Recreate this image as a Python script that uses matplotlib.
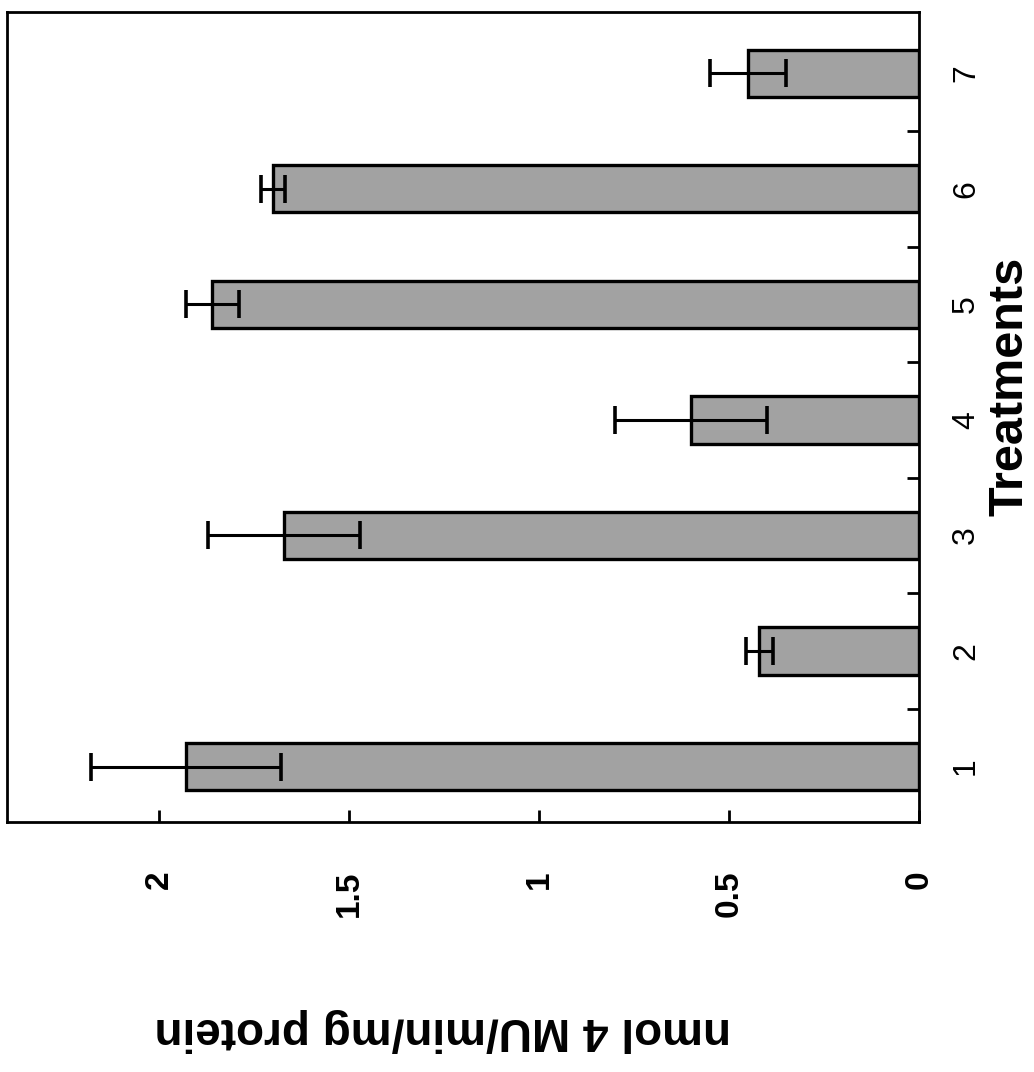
import matplotlib.pyplot as plt
from matplotlib.ticker import FixedLocator

# enzyme activity per treatment (figure is the original bar chart turned 90 deg)
treatments = [1, 2, 3, 4, 5, 6, 7]
activity = [1.93, 0.42, 1.67, 0.60, 1.86, 1.70, 0.45]
errors = [0.25, 0.035, 0.20, 0.20, 0.07, 0.032, 0.10]
value_ticks = [0, 0.5, 1, 1.5, 2]
value_labels = ['0', '0.5', '1', '1.5', '2']

plt.rcParams['font.family'] = ['Liberation Sans', 'DejaVu Sans']

fig = plt.figure(figsize=(10.34, 10.72), dpi=100)
ax = fig.add_axes([7 / 1034, 1 - 822 / 1072, 912 / 1034, 810 / 1072])

ax.barh(treatments, activity, height=0.41, color='#a2a2a2',
        edgecolor='black', linewidth=2.4, zorder=2)
ax.errorbar(activity, treatments, xerr=errors, fmt='none', ecolor='black',
            elinewidth=2.2, capsize=10, capthick=2.6, zorder=3)

ax.set_xlim(2.4, 0)
ax.set_ylim(0.52, 7.53)

for side in ['left', 'right', 'top', 'bottom']:
    ax.spines[side].set_linewidth(2.0)

# value axis along the bottom
ax.set_xticks(value_ticks)
ax.set_xticklabels(value_labels, rotation=90, fontsize=24, fontweight='bold', va='top')
ax.tick_params(axis='x', direction='in', length=9, width=2, pad=35)

# category axis on the right, separators as minor ticks
ax.yaxis.tick_right()
ax.set_yticks(treatments)
ax.set_yticklabels([str(t) for t in treatments], rotation=90, fontsize=23, va='center')
ax.tick_params(axis='y', which='major', length=0, pad=23)
ax.yaxis.set_minor_locator(FixedLocator([1.5, 2.5, 3.5, 4.5, 5.5, 6.5]))
ax.tick_params(axis='y', which='minor', direction='in', length=9, width=2, right=True, left=False)

fig.text(1010 / 1034, 1 - 386 / 1072, 'Treatments', rotation=90, fontsize=35,
         fontweight='bold', ha='center', va='center')
fig.text(443 / 1034, 1 - 1030 / 1072, 'nmol 4 MU/min/mg protein', rotation=180,
         fontsize=33, fontweight='bold', ha='center', va='center')

fig.savefig('out.png', dpi=100)
